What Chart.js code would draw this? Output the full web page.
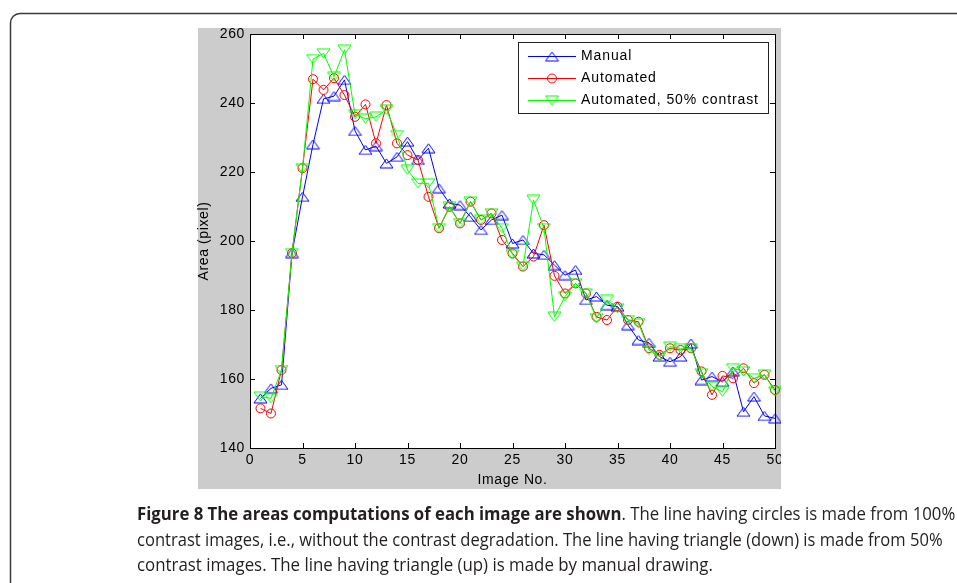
<!DOCTYPE html>
<html>
<head>
<meta charset="utf-8">
<script src="https://cdn.jsdelivr.net/npm/chart.js@4.4.0/dist/chart.umd.min.js"></script>
<style>
  html, body { margin: 0; padding: 0; background: #fff; }
  #wrap { position: relative; width: 957px; height: 583px; overflow: hidden; }
  #c { position: absolute; left: 0; top: 0; }
  .cap { position: absolute; left: 137px; white-space: nowrap; font-family: "Open Sans", "Noto Sans", sans-serif;
         font-size: 18px; line-height: 24px; color: #231f20; transform-origin: 0 50%; }
  .cap b { font-weight: 700; }
</style>
</head>
<body>
<div id="wrap">
  <canvas id="c" width="957" height="583"></canvas>
  <div class="cap" id="l1" style="top:501px" data-w="818"><b>Figure 8 The areas computations of each image are shown</b>. The line having circles is made from 100%</div>
  <div class="cap" id="l2" style="top:527px" data-w="806">contrast images, i.e., without the contrast degradation. The line having triangle (down) is made from 50%</div>
  <div class="cap" id="l3" style="top:552px" data-w="576">contrast images. The line having triangle (up) is made by manual drawing.</div>
</div>
<script>
// ---------- data ----------
const imageNo = [1,2,3,4,5,6,7,8,9,10,11,12,13,14,15,16,17,18,19,20,21,22,23,24,25,26,27,28,29,30,31,32,33,34,35,36,37,38,39,40,41,42,43,44,45,46,47,48,49,50];
const manual = [154.4,157.3,158.3,196.5,212.8,228.0,241.2,242.0,246.7,231.9,226.4,227.5,222.5,224.4,228.8,223.5,226.9,215.3,210.9,210.4,207.0,203.2,206.1,207.5,199.3,200.3,196.4,196.0,193.0,190.1,191.6,182.9,183.9,181.4,181.0,175.6,171.3,170.5,166.5,165.0,166.5,170.3,159.7,160.7,159.2,162.2,150.5,154.9,149.3,148.6];
const automated = [151.5,150.0,162.6,196.5,221.1,246.9,243.8,247.2,242.3,236.0,239.6,228.3,239.4,228.3,224.9,223.5,212.8,203.7,209.9,205.1,211.4,206.1,208.0,200.3,196.4,192.6,195.5,204.6,189.9,184.8,187.7,184.8,178.0,177.1,181.0,177.1,176.6,168.9,167.0,168.9,168.4,168.9,162.2,155.4,160.9,160.2,163.1,158.8,161.2,156.8];
const automated50 = [154.9,154.4,162.6,196.5,221.0,252.7,254.4,247.6,255.4,236.7,235.4,236.0,238.0,230.7,220.6,216.7,216.7,203.7,209.9,205.1,211.4,206.1,208.0,203.7,196.0,192.6,211.9,203.7,178.0,183.9,187.7,184.8,177.6,182.9,180.5,177.1,176.1,168.4,166.5,169.4,168.9,168.9,161.7,157.8,156.3,163.1,162.2,160.2,161.2,156.3];
const seriesNames = ["Manual", "Automated", "Automated, 50% contrast"];
const xTicks = [0,5,10,15,20,25,30,35,40,45,50];
const yTicks = [140,160,180,200,220,240,260];
const xTitle = "Image No.";
const yTitle = "Area (pixel)";

// ---------- marker images ----------
function triMarker(color, down) {
  const c = document.createElement('canvas');
  c.width = 15; c.height = 11;
  const g = c.getContext('2d');
  g.strokeStyle = color; g.lineWidth = 1;
  g.beginPath();
  if (!down) { g.moveTo(1, 10); g.lineTo(7.5, 1); g.lineTo(14, 10); }
  else { g.moveTo(1, 1); g.lineTo(7.5, 10); g.lineTo(14, 1); }
  g.closePath(); g.stroke();
  return c;
}
const upTri = triMarker('#0000ff', false);
const downTri = triMarker('#00ff00', true);

function pts(arr) { return arr.map((v, i) => ({ x: imageNo[i], y: v })); }

const CA = { left: 250, top: 34, right: 775, bottom: 448 };

const bgPlugin = {
  id: 'bg',
  beforeDraw(chart) {
    const ctx = chart.ctx;
    ctx.save();
    ctx.fillStyle = '#fff'; ctx.fillRect(0, 0, 957, 583);
    // figure frame
    ctx.strokeStyle = '#3a3a3a'; ctx.lineWidth = 1.5;
    ctx.beginPath();
    ctx.moveTo(10.5, 590); ctx.lineTo(10.5, 23);
    ctx.arcTo(10.5, 13.5, 20, 13.5, 9.5);
    ctx.lineTo(960, 13.5);
    ctx.stroke();
    // MATLAB figure background
    ctx.fillStyle = '#cccccc'; ctx.fillRect(198, 28, 583, 461);
    const a = chart.chartArea;
    ctx.fillStyle = '#fff'; ctx.fillRect(a.left, a.top, a.right - a.left, a.bottom - a.top);
    ctx.restore();
    ctx.letterSpacing = '0.6px';
  },
  beforeDatasetsDraw(chart) {
    const ctx = chart.ctx;
    const a = chart.chartArea;
    const xs = chart.scales.x, ys = chart.scales.y;
    ctx.save();
    ctx.strokeStyle = '#000'; ctx.lineWidth = 1;
    ctx.strokeRect(a.left + 0.5, a.top + 0.5, a.right - a.left, a.bottom - a.top);
    ctx.beginPath();
    xs.ticks.forEach(t => {
      const px = Math.round(xs.getPixelForValue(t.value)) + 0.5;
      ctx.moveTo(px, a.bottom); ctx.lineTo(px, a.bottom - 5);
      ctx.moveTo(px, a.top); ctx.lineTo(px, a.top + 5);
    });
    ys.ticks.forEach(t => {
      const py = Math.round(ys.getPixelForValue(t.value)) + 0.5;
      ctx.moveTo(a.left, py); ctx.lineTo(a.left + 5, py);
      ctx.moveTo(a.right, py); ctx.lineTo(a.right - 5, py);
    });
    ctx.stroke();
    ctx.restore();
  },
  afterDraw(chart) {
    const ctx = chart.ctx;
    ctx.save();
    // clip region outside figure on the right
    ctx.fillStyle = '#fff'; ctx.fillRect(781, 24, 176, 470);
    // legend
    ctx.fillStyle = '#fff'; ctx.strokeStyle = '#222'; ctx.lineWidth = 1;
    ctx.fillRect(518.5, 42.5, 250, 71);
    ctx.strokeRect(518.5, 42.5, 250, 71);
    const rows = [56.5, 78.5, 100.5];
    chart.data.datasets.slice().sort((p, q) => p.legendIndex - q.legendIndex).forEach((ds, i) => {
      const y = rows[i];
      ctx.strokeStyle = ds.borderColor; ctx.lineWidth = 1;
      ctx.beginPath(); ctx.moveTo(528, y); ctx.lineTo(576, y); ctx.stroke();
      if (ds.pointStyle === 'circle') {
        ctx.beginPath(); ctx.arc(552, y, 4.5, 0, Math.PI * 2); ctx.stroke();
      } else {
        ctx.drawImage(ds.pointStyle, 552 - 7.5, Math.round(y - 5.5));
      }
      ctx.fillStyle = '#000';
      ctx.font = '14px "Liberation Sans", Arial, sans-serif';
      ctx.letterSpacing = '0.9px';
      ctx.textBaseline = 'middle'; ctx.textAlign = 'left';
      ctx.fillText(ds.label, 581, y);
    });
    ctx.restore();
  }
};

Chart.defaults.font.family = '"Liberation Sans", Arial, sans-serif';
Chart.defaults.font.size = 14;
Chart.defaults.color = '#000';

const gridOff = { display: false, drawTicks: false, tickLength: 0 };

new Chart(document.getElementById('c'), {
  type: 'line',
  data: {
    datasets: [
      { label: seriesNames[0], legendIndex: 0, order: 2, data: pts(manual), borderColor: '#0000ff', backgroundColor: 'rgba(0,0,0,0)',
        pointStyle: upTri, pointRadius: 6, borderWidth: 1, tension: 0, clip: false },
      { label: seriesNames[1], legendIndex: 1, order: 1, data: pts(automated), borderColor: '#ff0000', backgroundColor: 'rgba(0,0,0,0)',
        pointStyle: 'circle', pointRadius: 4.5, pointBorderWidth: 1, borderWidth: 1, tension: 0, clip: false },
      { label: seriesNames[2], legendIndex: 2, order: 0, data: pts(automated50), borderColor: '#00ff00', backgroundColor: 'rgba(0,0,0,0)',
        pointStyle: downTri, pointRadius: 6, borderWidth: 1, tension: 0, clip: false }
    ]
  },
  options: {
    responsive: false,
    animation: false,
    devicePixelRatio: 1,
    layout: { padding: { left: 196, top: CA.top, right: 957 - CA.right, bottom: 93 } },
    plugins: { legend: { display: false }, tooltip: { enabled: false } },
    events: [],
    scales: {
      x: {
        type: 'linear', min: 0, max: 50,
        afterBuildTicks(s) { s.ticks = xTicks.map(v => ({ value: v })); },
        ticks: { padding: 4, maxRotation: 0, autoSkip: false, callback: v => String(v) },
        grid: gridOff, border: { display: false },
        title: { display: true, text: xTitle, padding: { top: 0, bottom: 1.6 }, font: { size: 14 } },
        afterFit(s) { s.height = 42; }
      },
      y: {
        type: 'linear', min: 140, max: 260,
        afterBuildTicks(s) { s.ticks = yTicks.map(v => ({ value: v })); },
        ticks: { padding: 5, autoSkip: false, callback: v => String(v) },
        grid: gridOff, border: { display: false },
        title: { display: true, text: yTitle, padding: { top: 0, bottom: 0 }, font: { size: 14 } },
        afterFit(s) { s.width = 54; }
      }
    }
  },
  plugins: [bgPlugin]
});

// fit caption lines to the reference widths
document.querySelectorAll('.cap').forEach(el => {
  const w = el.scrollWidth;
  const target = parseFloat(el.dataset.w);
  el.style.transform = 'scaleX(' + (target / w) + ')';
});
</script>
</body>
</html>
